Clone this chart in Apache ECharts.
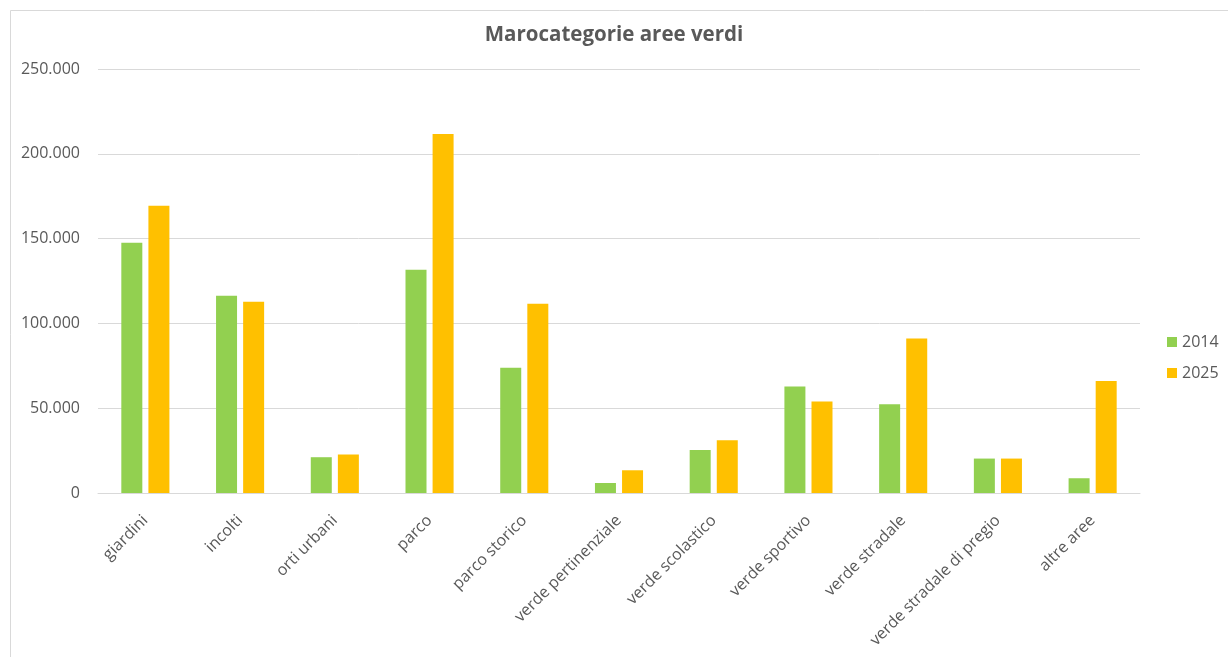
<!DOCTYPE html>
<html>
<head>
<meta charset="utf-8">
<script src="https://cdn.jsdelivr.net/npm/echarts@6/dist/echarts.min.js"></script>
<style>html,body{margin:0;padding:0;background:#fff}#c{width:1228px;height:657px}</style>
</head>
<body>
<div id="c"></div>
<script>
var categories = ['giardini','incolti','orti urbani','parco','parco storico','verde pertinenziale','verde scolastico','verde sportivo','verde stradale','verde stradale di pregio','altre aree'];
var values2014 = [147500, 116300, 21100, 131600, 73800, 5900, 25400, 62800, 52400, 20300, 8700];
var values2025 = [169400, 112800, 22700, 211700, 111600, 13400, 31100, 54000, 91100, 20300, 66100];
var seriesNames = ['2014', '2025'];
var yTicks = [0, 50000, 100000, 150000, 200000, 250000];

function fmt(v){ return String(v).replace(/\B(?=(\d{3})+(?!\d))/g, '.'); }

var chart = echarts.init(document.getElementById('c'));
var FONT = 'Open Sans';
chart.setOption({
  backgroundColor: '#fff',
  animation: false,
  textStyle: { fontFamily: FONT },
  title: {
    text: 'Marocategorie aree verdi',
    left: 'center', top: 20,
    textStyle: { fontFamily: FONT, fontSize: 20.5, fontWeight: 'bold', color: '#595959' }
  },
  graphic: [{
    type: 'rect', left: 8, top: 8, z: -1,
    shape: { width: 1240, height: 670 },
    style: { fill: 'none', stroke: '#d9d9d9', lineWidth: 1 }
  }],
  legend: {
    orient: 'vertical', left: 1162, top: 329,
    itemWidth: 10, itemHeight: 10, itemGap: 15,
    icon: 'rect',
    textStyle: { fontFamily: FONT, fontSize: 16, color: '#595959' },
    data: seriesNames
  },
  grid: { left: 98, right: 88, top: 69, bottom: 164, containLabel: false },
  xAxis: {
    type: 'category', data: categories,
    axisLine: { lineStyle: { color: '#d9d9d9' } },
    axisTick: { show: false },
    axisLabel: { rotate: 45, interval: 0, margin: 25, fontFamily: FONT, fontSize: 16, color: '#595959' }
  },
  yAxis: {
    type: 'value', min: yTicks[0], max: yTicks[yTicks.length - 1], interval: yTicks[1] - yTicks[0],
    axisLine: { show: false }, axisTick: { show: false },
    splitLine: { lineStyle: { color: '#d9d9d9' } },
    axisLabel: { margin: 18, fontFamily: FONT, fontSize: 16, color: '#595959', formatter: fmt }
  },
  series: [
    { name: seriesNames[0], type: 'bar', data: values2014, barWidth: 21, barGap: '29%', itemStyle: { color: '#92d050' } },
    { name: seriesNames[1], type: 'bar', data: values2025, barWidth: 21, barGap: '29%', itemStyle: { color: '#ffc000' } }
  ]
});
</script>
</body>
</html>
